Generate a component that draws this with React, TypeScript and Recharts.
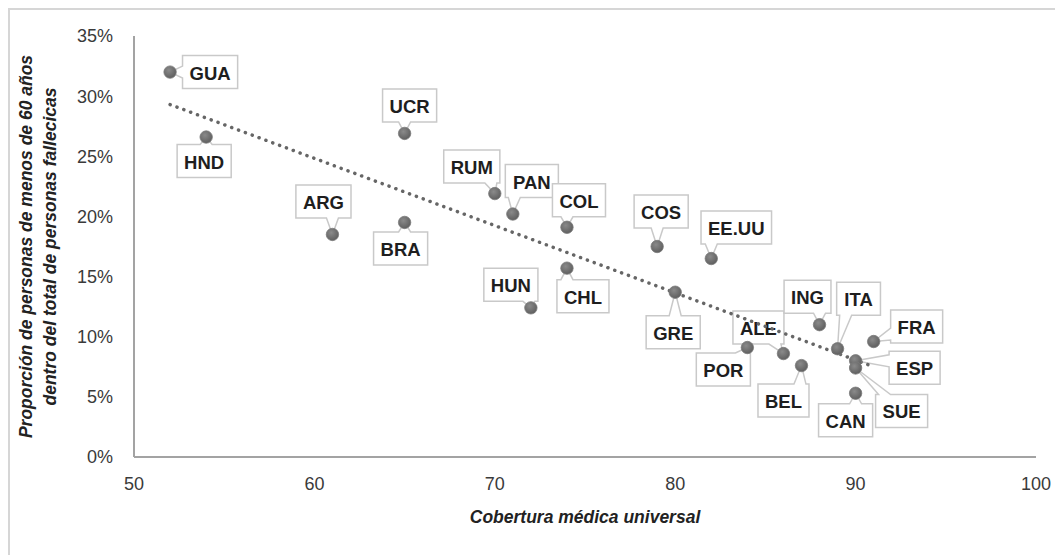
import React from "react";
import { ScatterChart, Scatter, XAxis, YAxis, Label } from "recharts";

// country codes, coverage (x) and share of deaths under 60 (y, %)
const countries = ["GUA", "HND", "UCR", "ARG", "BRA", "RUM", "PAN", "COL", "HUN", "CHL", "COS", "EE.UU", "GRE", "POR", "ALE", "BEL", "ING", "ITA", "FRA", "ESP", "SUE", "CAN"];
const coverage = [52, 54, 65, 61, 65, 70, 71, 74, 72, 74, 79, 82, 80, 84, 86, 87, 88, 89, 91, 90, 90, 90];
const shareUnder60 = [32.0, 26.6, 26.9, 18.5, 19.5, 21.9, 20.2, 19.1, 12.4, 15.7, 17.5, 16.5, 13.7, 9.1, 8.6, 7.6, 11.0, 9.0, 9.6, 8.0, 7.4, 5.3];

// linear trend
const trendX = [52, 91];
const trendY = [29.3, 7.5];

const xTicks = [50, 60, 70, 80, 90, 100];
const yTicks = [0, 5, 10, 15, 20, 25, 30, 35];

const points = countries.map((name, i) => ({ name, x: coverage[i], y: shareUnder60[i] }));
const trend = trendX.map((x, i) => ({ x, y: trendY[i] }));

// where each callout box sits relative to its point (px)
const labelOffset: Record<string, [number, number]> = {
  GUA: [40, 0], HND: [-2, 24], ARG: [-9, -33], UCR: [5, -28], RUM: [-23, -27],
  PAN: [19, -33], COL: [12, -27], COS: [4, -35], BRA: [-4, 26], "EE.UU": [25, -31],
  HUN: [-20, -23], CHL: [16, 28], GRE: [-2, 40], ING: [-12, -28], ITA: [21, -50],
  FRA: [43, -15], ALE: [-25, -26], POR: [-24, 22], BEL: [-18, 35], ESP: [59, 7],
  SUE: [46, 43], CAN: [-10, 27],
};

const FONT = "'Liberation Sans', Arial, sans-serif";
const charW: Record<string, number> = {
  A: 0.722, B: 0.722, C: 0.722, D: 0.722, E: 0.667, F: 0.611, G: 0.778, H: 0.722, I: 0.278,
  L: 0.611, M: 0.833, N: 0.722, O: 0.778, P: 0.667, R: 0.722, S: 0.667, T: 0.611, U: 0.722, ".": 0.278,
};
const LABEL_SIZE = 18.5;

const clamp = (v: number, a: number, b: number) => Math.max(a, Math.min(b, v));

function Callout(props: any) {
  const { cx, cy, payload } = props;
  if (cx == null || cy == null) return <g />;
  const name = payload.name;
  const [dx, dy] = labelOffset[name] || [0, -30];
  const tw = name.split("").reduce((s: number, c: string) => s + (charW[c] || 0.7), 0) * LABEL_SIZE;
  const w = tw + 14;
  const h = 33;
  const bx = cx + dx;
  const by = cy + dy;
  const x0 = bx - w / 2, x1 = bx + w / 2, y0 = by - h / 2, y1 = by + h / 2;
  const rx = cx - bx, ry = cy - by;
  const side = Math.abs(rx) / w > Math.abs(ry) / h ? (rx < 0 ? "left" : "right") : ry < 0 ? "top" : "bottom";
  const hw = 6;
  let d = `M${x0},${y0}`;
  if (side === "top") {
    const c = clamp(cx, x0 + hw + 3, x1 - hw - 3);
    d += `L${c - hw},${y0}L${cx},${cy}L${c + hw},${y0}`;
  }
  d += `L${x1},${y0}`;
  if (side === "right") {
    const c = clamp(cy, y0 + hw + 3, y1 - hw - 3);
    d += `L${x1},${c - hw}L${cx},${cy}L${x1},${c + hw}`;
  }
  d += `L${x1},${y1}`;
  if (side === "bottom") {
    const c = clamp(cx, x0 + hw + 3, x1 - hw - 3);
    d += `L${c + hw},${y1}L${cx},${cy}L${c - hw},${y1}`;
  }
  d += `L${x0},${y1}`;
  if (side === "left") {
    const c = clamp(cy, y0 + hw + 3, y1 - hw - 3);
    d += `L${x0},${c + hw}L${cx},${cy}L${x0},${c - hw}`;
  }
  d += "Z";
  return (
    <g>
      <path d={d} fill="#fff" stroke="#c9c9c9" strokeWidth={1.5} />
      <text x={bx} y={by + 1} textAnchor="middle" dominantBaseline="central" fontFamily={FONT} fontWeight="bold" fontSize={LABEL_SIZE} fill="#1e1e1e">
        {name}
      </text>
    </g>
  );
}

const Dot = (props: any) => {
  if (props.cx == null) return <g />;
  return <circle cx={props.cx} cy={props.cy} r={6.2} fill="url(#dotFill)" stroke="#7a7a7a" strokeWidth={0.8} />;
};

const NoDot = () => <g />;

const YTitle = (props: any) => {
  const vb = props.viewBox || {};
  const cy = vb.y + vb.height / 2;
  const lines = ["Proporción de personas de menos de 60 años", "dentro del total de personas fallecicas"];
  const xs = [16, 40];
  return (
    <g>
      {lines.map((t, i) => (
        <text key={i} x={xs[i]} y={cy} transform={`rotate(-90, ${xs[i]}, ${cy})`} textAnchor="middle" dominantBaseline="central"
          fontFamily={FONT} fontWeight="bold" fontStyle="italic" fontSize={17.5} fill="#222">
          {t}
        </text>
      ))}
    </g>
  );
};

const XTitle = (props: any) => {
  const vb = props.viewBox || {};
  return (
    <text x={vb.x + vb.width / 2} y={vb.y + 60} textAnchor="middle" dominantBaseline="central"
      fontFamily={FONT} fontWeight="bold" fontStyle="italic" fontSize={17.5} fill="#222">
      Cobertura médica universal
    </text>
  );
};

export default function App() {
  const tick = { fontSize: 18, fill: "#3a3a3a", fontFamily: FONT };
  return (
    <div style={{ width: 1055, height: 547, boxSizing: "border-box", borderTop: "2px solid #d6d6d6", borderLeft: "2px solid #d6d6d6", background: "#fff" }}>
      <ScatterChart width={1053} height={545} margin={{ top: 26, right: 27, left: 0, bottom: 38 }}>
        <defs>
          <radialGradient id="dotFill" cx="40%" cy="35%" r="70%">
            <stop offset="0%" stopColor="#8a8a8a" />
            <stop offset="100%" stopColor="#5c5c5c" />
          </radialGradient>
        </defs>
        <XAxis type="number" dataKey="x" domain={[50, 100]} ticks={xTicks} interval={0} height={60}
          tickSize={0} tickMargin={20} tick={tick} axisLine={{ stroke: "#a3a3a3", strokeWidth: 2 }}>
          <Label content={XTitle} />
        </XAxis>
        <YAxis type="number" dataKey="y" domain={[0, 35]} ticks={yTicks} interval={0} width={124}
          tickSize={0} tickMargin={21} tick={tick} tickFormatter={(v: number) => `${v}%`}
          axisLine={{ stroke: "#a3a3a3", strokeWidth: 2 }}>
          <Label content={YTitle} />
        </YAxis>
        <Scatter data={points} shape={Callout} isAnimationActive={false} />
        <Scatter data={trend} shape={NoDot} line={{ stroke: "#666", strokeWidth: 3.5, strokeDasharray: "0.1 7.2", strokeLinecap: "round" }} isAnimationActive={false} />
        <Scatter data={points} shape={Dot} isAnimationActive={false} />
      </ScatterChart>
    </div>
  );
}
